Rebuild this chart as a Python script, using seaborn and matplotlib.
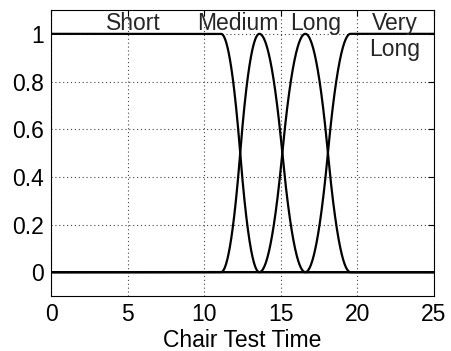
import numpy as np
import pandas as pd
import matplotlib
matplotlib.use("Agg")
import matplotlib.pyplot as plt
import seaborn as sns

# Membership-function breakpoints
categories = ["Short", "Medium", "Long", "Very Long"]
breaks = [11.1, 13.6, 16.6, 19.55]
x_ticks = [0, 5, 10, 15, 20, 25]
y_ticks = [0, 0.2, 0.4, 0.6, 0.8, 1]
y_tick_labels = ["0", "0.2", "0.4", "0.6", "0.8", "1"]
label_x = [5.4, 12.2, 17.3, 22.45]
label_text = ["Short", "Medium", "Long", "Very\nLong"]


def smf(x, a, b):
    y = np.zeros_like(x)
    m = (a + b) / 2
    y[x >= b] = 1
    i1 = (x > a) & (x <= m)
    y[i1] = 2 * ((x[i1] - a) / (b - a)) ** 2
    i2 = (x > m) & (x < b)
    y[i2] = 1 - 2 * ((x[i2] - b) / (b - a)) ** 2
    return y


def zmf(x, a, b):
    return 1 - smf(x, a, b)


x = np.linspace(0, 25, 2001)
a, b, c, d = breaks
curves = {
    "Short": zmf(x, a, b),
    "Medium": smf(x, a, b) * zmf(x, b, c),
    "Long": smf(x, b, c) * zmf(x, c, d),
    "Very Long": smf(x, c, d),
}
df = pd.concat(
    [pd.DataFrame({"x": x, "y": curves[k], "mf": k}) for k in categories],
    ignore_index=True,
)

sns.set_style("white")
plt.rcParams["font.family"] = ["Liberation Sans", "DejaVu Sans"]

fig = plt.figure(figsize=(4.51, 3.51), dpi=100)
ax = fig.add_axes([51 / 451, 1 - 296 / 351, (434 - 51) / 451, (296 - 10) / 351])

sns.lineplot(data=df, x="x", y="y", hue="mf", palette=["black"] * 4,
             legend=False, ax=ax, linewidth=1.6, sort=False, estimator=None)

fs = 16.5
ax.set_xlim(0, 25)
ax.set_ylim(-0.1, 1.1)
ax.set_xticks(x_ticks)
ax.set_xticklabels([str(t) for t in x_ticks])
ax.set_yticks(y_ticks)
ax.set_yticklabels(y_tick_labels)
ax.tick_params(direction="in", length=4, labelsize=fs, color="black",
               labelcolor="black", pad=5, top=True, right=True)
ax.grid(True, linestyle=(0, (1, 2.5)), color="#444444", linewidth=0.8)
for s in ax.spines.values():
    s.set_color("black")
    s.set_linewidth(0.8)
ax.set_xlabel("Chair Test Time", fontsize=fs, color="black", labelpad=2)
ax.set_ylabel("")

ax.text(label_x[0], 1.045, label_text[0], ha="center", va="center", fontsize=fs)
ax.text(label_x[1], 1.045, label_text[1], ha="center", va="center", fontsize=fs)
ax.text(label_x[2], 1.045, label_text[2], ha="center", va="center", fontsize=fs)
ax.text(label_x[3], 0.99, label_text[3], ha="center", va="center", fontsize=fs,
        linespacing=1.15)

fig.savefig("out.png", dpi=100)
